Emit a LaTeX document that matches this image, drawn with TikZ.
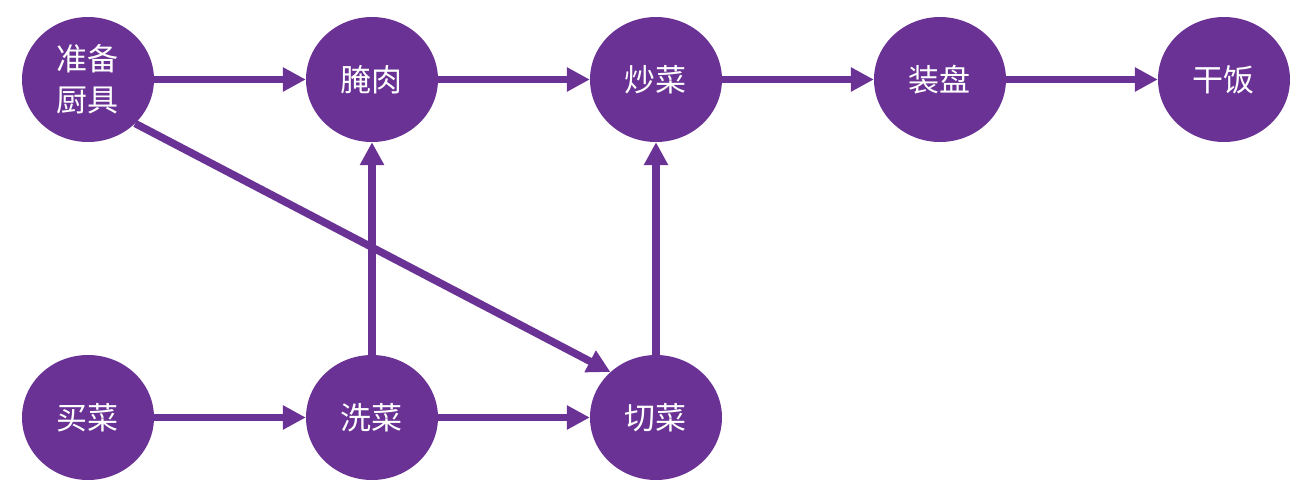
\documentclass[tikz,border=0pt]{standalone}
\usepackage{fontspec}
\setmainfont{Noto Sans CJK SC}
\usepackage{tikz}
\usetikzlibrary{shapes.geometric,arrows.meta}
\definecolor{cook}{RGB}{106,50,148}
\begin{document}
\begin{tikzpicture}[
   every matrix/.style={ampersand replacement=\&,column sep=152pt,row sep=213pt},
   state/.style={ellipse,fill=cook,text=white,inner sep=0pt,minimum width=132pt,minimum height=125pt,
     align=center,font=\fontsize{31}{41}\selectfont},
   link/.style={-{Triangle[length=23pt,width=23pt]},line width=7.5pt,draw=cook}]
\useasboundingbox (0,0) rectangle (1301pt,-487pt);
\matrix at (656pt,-248.5pt) {
\node[state] (prep) {准备\\厨具};\&\node[state] (marinate) {腌肉};\&\node[state] (stirfry) {炒菜};\&\node[state] (plate) {装盘};\&\node[state] (eat) {干饭};\\
\node[state] (buy) {买菜};\&\node[state] (wash) {洗菜};\&\node[state] (cut) {切菜};\&\&\\
};
\draw[link] (prep) -- (marinate);
\draw[link] (marinate) -- (stirfry);
\draw[link] (stirfry) -- (plate);
\draw[link] (plate) -- (eat);
\draw[link] (buy) -- (wash);
\draw[link] (wash) -- (cut);
\draw[link] (wash) -- (marinate);
\draw[link] (cut) -- (stirfry);
\draw[link] (prep.-43) -- (cut.135);
\end{tikzpicture}
\end{document}
